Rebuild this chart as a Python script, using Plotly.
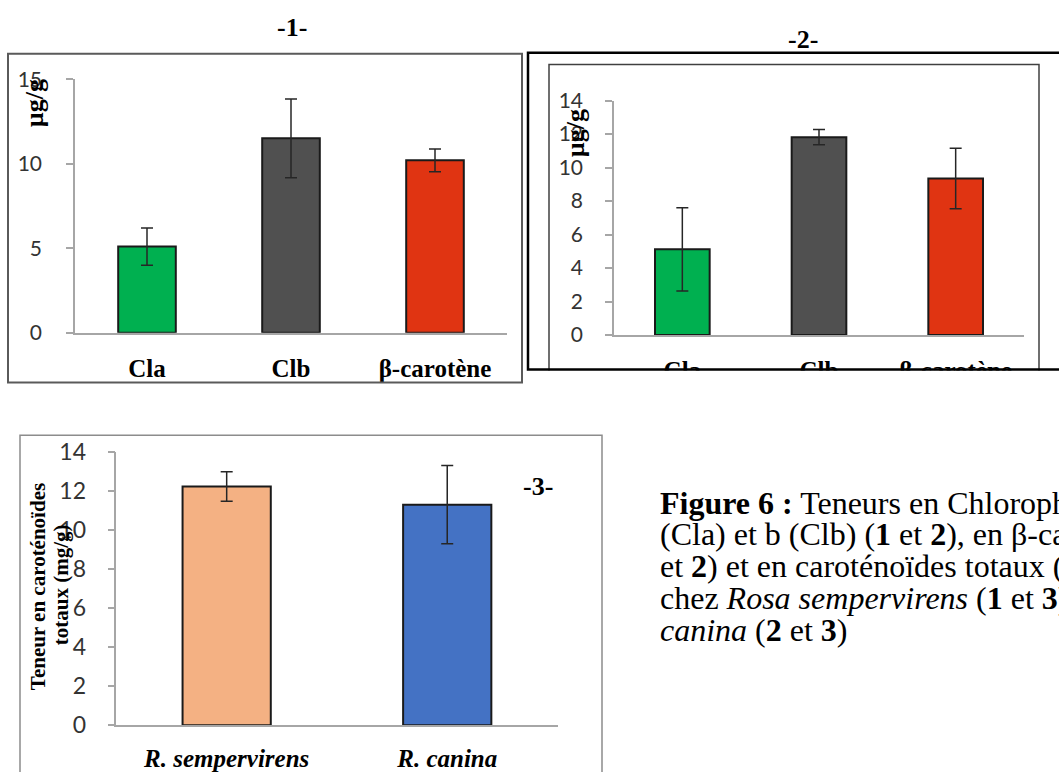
import plotly.graph_objects as go

W, H = 1059, 772

# ---- data ----
pigments = ["Cla", "Clb", "β-carotène"]
pigment_colors = ["#00b050", "#505050", "#e03412"]

sempervirens_mean = [5.1, 11.5, 10.2]
sempervirens_err = [1.1, 2.33, 0.67]

canina_mean = [5.12, 11.82, 9.35]
canina_err = [2.48, 0.46, 1.8]

species = ["R. sempervirens", "R. canina"]
species_colors = ["#f4b183", "#4472c4"]
carot_mean = [12.22, 11.29]
carot_err = [0.75, 2.0]

ticks_1 = [0, 5, 10, 15]
ticks_2 = [0, 2, 4, 6, 8, 10, 12, 14]
ticks_3 = [0, 2, 4, 6, 8, 10, 12, 14]

# vertical layout scale used for the page
Y_SCALE, Y_SHIFT = 0.957, 16.1


def px_x(x):
    return x / W


def px_y(y):
    return 1 - ((y - Y_SHIFT) / Y_SCALE) / H


SERIF = "Liberation Serif, Times New Roman, serif"
SANS = "Lato, Carlito, sans-serif"

fig = go.Figure()


def add_bars(xref, yref, cats, vals, errs, colors):
    fig.add_trace(go.Bar(
        x=cats, y=vals, xaxis=xref, yaxis=yref, width=0.4,
        marker=dict(color=colors, line=dict(color="#1a1a1a", width=2)),
        error_y=dict(type="data", array=errs, visible=True,
                     color="#262626", thickness=1.5, width=6),
        showlegend=False, hoverinfo="skip",
    ))


add_bars("x", "y", pigments, sempervirens_mean, sempervirens_err, pigment_colors)
add_bars("x2", "y2", pigments, canina_mean, canina_err, pigment_colors)
add_bars("x3", "y3", species, carot_mean, carot_err, species_colors)


def xaxis(x0, x1, y_anchor, font_size, standoff, style="normal"):
    return dict(
        domain=[px_x(x0), px_x(x1)], anchor=y_anchor, type="category",
        showline=True, linecolor="#a6a6a6", linewidth=1.5,
        ticks="", showgrid=False, zeroline=False,
        tickfont=dict(family=SERIF, size=font_size, color="#000000",
                      weight="bold", style=style),
        ticklabelstandoff=standoff, fixedrange=True,
    )


def yaxis(y_bottom, y_top, x_anchor, rng, tickvals, font_size, standoff):
    return dict(
        domain=[px_y(y_bottom), px_y(y_top)], anchor=x_anchor,
        range=rng, tickvals=tickvals, showgrid=False, zeroline=False,
        showline=True, linecolor="#a6a6a6", linewidth=1.5,
        ticks="outside", ticklen=7, tickcolor="#a6a6a6", tickwidth=1.5,
        tickfont=dict(family=SANS, size=font_size, color="#333333"),
        ticklabelstandoff=standoff, fixedrange=True,
    )


fig.update_layout(
    width=W, height=H,
    margin=dict(l=0, r=0, t=0, b=0),
    paper_bgcolor="white", plot_bgcolor="white",
    bargap=0.6,
    xaxis=xaxis(75, 507, "y", 25, 12),
    yaxis=yaxis(336, 80.7, "x", [0, 15], ticks_1, 21, 20),
    xaxis2=xaxis(614, 1024, "y2", 25, 12),
    yaxis2=yaxis(338.3, 102.3, "x2", [0, 14], ticks_2, 21, 18),
    xaxis3=xaxis(116.4, 557.5, "y3", 25, 10, style="italic"),
    yaxis3=yaxis(731, 455.7, "x3", [0, 14], ticks_3, 23, 17),
)

shapes = [
    # panel 1 frame
    dict(type="rect", xref="paper", yref="paper", layer="above",
         x0=px_x(8), x1=px_x(522), y0=px_y(386), y1=px_y(55),
         line=dict(color="#5a5a5a", width=2), fillcolor="rgba(0,0,0,0)"),
    # panel 2 inner frame
    dict(type="rect", xref="paper", yref="paper", layer="above",
         x0=px_x(549), x1=px_x(1039), y0=px_y(390), y1=px_y(66),
         line=dict(color="#404040", width=1.5), fillcolor="rgba(0,0,0,0)"),
    # panel 2 lower part hidden below its outer frame
    dict(type="rect", xref="paper", yref="paper", layer="above",
         x0=px_x(526), x1=px_x(1070), y0=px_y(394), y1=px_y(374),
         line=dict(width=0), fillcolor="white"),
    # panel 2 outer frame
    dict(type="rect", xref="paper", yref="paper", layer="above",
         x0=px_x(528), x1=px_x(1075), y0=px_y(373), y1=px_y(54),
         line=dict(color="#000000", width=2.5), fillcolor="rgba(0,0,0,0)"),
    # panel 3 frame
    dict(type="rect", xref="paper", yref="paper", layer="above",
         x0=px_x(20), x1=px_x(602), y0=px_y(800), y1=px_y(439),
         line=dict(color="#8c8c8c", width=1.5), fillcolor="rgba(0,0,0,0)"),
]
fig.update_layout(shapes=shapes)


def label(text, x, y, size, angle=0, xanchor="center"):
    fig.add_annotation(
        text=text, x=px_x(x), y=px_y(y), xref="paper", yref="paper",
        showarrow=False, textangle=angle, xanchor=xanchor, yanchor="middle",
        font=dict(family=SERIF, size=size, color="#000000"),
    )


# panel numbers
label("<b>-1-</b>", 292, 29, 26)
label("<b>-2-</b>", 803, 41, 26)
label("<b>-3-</b>", 538, 491, 26)

# y-axis titles
label("<b>µg/g</b>", 34, 105, 26, angle=-90)
label("<b>µg/g</b>", 575, 135, 26, angle=-90)
label("<b>Teneur en caroténoïdes</b>", 38, 592, 21, angle=-90)
label("<b>totaux (mg/g)</b>", 61, 590, 21, angle=-90)

# figure caption
caption_lines = [
    "<b>Figure 6 :</b> Teneurs en Chlorophylles a",
    "(Cla) et b (Clb) (<b>1</b> et <b>2</b>), en β-carotène (<b>1</b>",
    "et <b>2</b>) et en caroténoïdes totaux (mg/g)",
    "chez <i>Rosa sempervirens</i> (<b>1</b> et <b>3</b>) et <i>Rosa</i>",
    "<i>canina</i> (<b>2</b> et <b>3</b>)",
]
caption_y = [507, 539, 571, 603, 635]
for line, yy in zip(caption_lines, caption_y):
    label(line, 658, yy, 32, xanchor="left")

fig.write_html("out.html")
